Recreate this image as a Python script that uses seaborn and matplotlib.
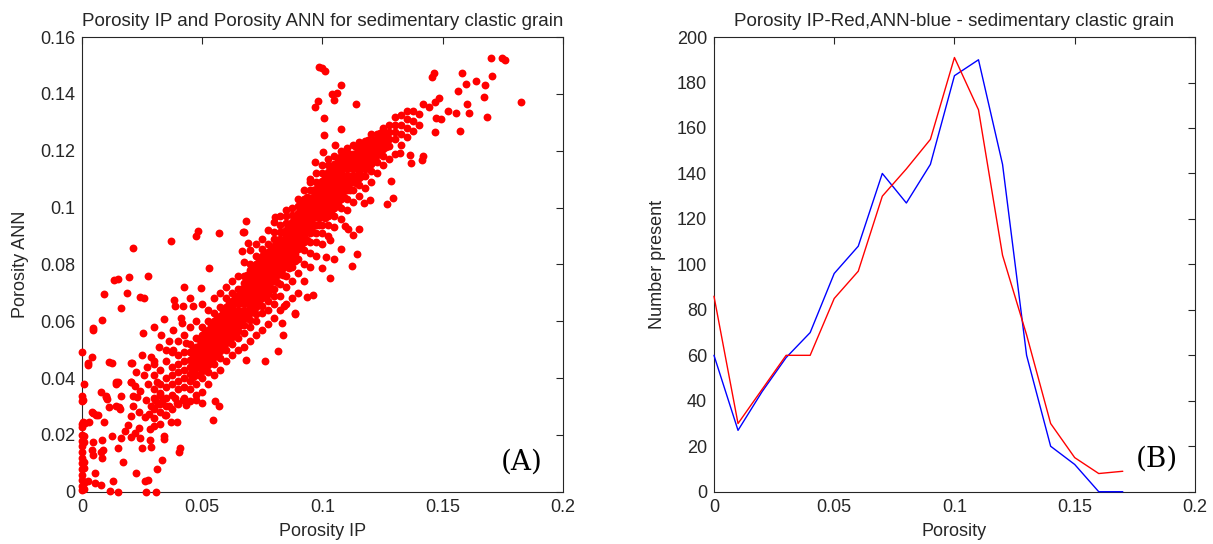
import numpy as np
import pandas as pd
import seaborn as sns
from matplotlib import pyplot as plt
from matplotlib.ticker import FuncFormatter, MultipleLocator

# ---- panel B: counts per porosity bin ----
bin_centres = [0.00, 0.01, 0.02, 0.03, 0.04, 0.05, 0.06, 0.07, 0.08,
               0.09, 0.10, 0.11, 0.12, 0.13, 0.14, 0.15, 0.16, 0.17]
count_ip = [86, 30, 45, 60, 60, 85, 97, 130, 142,
            155, 191, 168, 104, 69, 30, 15, 8, 9]
count_ann = [60, 27, 44, 59, 70, 96, 108, 140, 127,
             144, 183, 190, 144, 60, 20, 12, 0, 0]

# ---- panel A: main band, read column by column (IP value -> ANN values) ----
band_ip = [0.0300, 0.0325, 0.0350, 0.0375, 0.0400, 0.0425, 0.0450, 0.0475,
           0.0500, 0.0525, 0.0550, 0.0575, 0.0600, 0.0625, 0.0650, 0.0675,
           0.0700, 0.0725, 0.0750, 0.0775, 0.0800, 0.0825, 0.0850, 0.0875,
           0.0900, 0.0925, 0.0950, 0.0975, 0.1000, 0.1025, 0.1050, 0.1075,
           0.1100, 0.1125, 0.1150, 0.1175, 0.1200, 0.1225, 0.1250, 0.1275,
           0.1300, 0.1325, 0.1350, 0.1375, 0.1400]
band_ann = [
    [0.026, 0.029, 0.033, 0.036, 0.041, 0.046],
    [0.024, 0.028, 0.031, 0.034, 0.038, 0.043],
    [0.027, 0.030, 0.033, 0.037, 0.040, 0.046, 0.050],
    [0.029, 0.034, 0.038, 0.041, 0.044, 0.049],
    [0.031, 0.036, 0.039, 0.042, 0.045, 0.048, 0.053],
    [0.033, 0.037, 0.040, 0.043, 0.046, 0.049, 0.055],
    [0.032, 0.036, 0.039, 0.0415, 0.044, 0.0465, 0.049, 0.052, 0.058],
    [0.034, 0.038, 0.041, 0.0435, 0.046, 0.0485, 0.051, 0.054, 0.060],
    [0.035, 0.040, 0.0425, 0.045, 0.0475, 0.050, 0.0525, 0.055, 0.058, 0.066],
    [0.038, 0.042, 0.0445, 0.047, 0.0495, 0.052, 0.0545, 0.057, 0.060, 0.064],
    [0.041, 0.045, 0.0475, 0.050, 0.0525, 0.055, 0.0575, 0.060, 0.063, 0.068],
    [0.043, 0.047, 0.0495, 0.052, 0.0545, 0.057, 0.0595, 0.062, 0.065, 0.070],
    [0.046, 0.050, 0.0525, 0.055, 0.0575, 0.060, 0.0625, 0.065, 0.068, 0.072],
    [0.048, 0.052, 0.0545, 0.057, 0.0595, 0.062, 0.0645, 0.067, 0.070, 0.074],
    [0.050, 0.054, 0.0565, 0.059, 0.0615, 0.064, 0.0665, 0.069, 0.0715, 0.076],
    [0.051, 0.056, 0.0585, 0.061, 0.0635, 0.066, 0.0685, 0.071, 0.0735, 0.076, 0.081],
    [0.053, 0.058, 0.0605, 0.063, 0.0655, 0.068, 0.0705, 0.073, 0.0755, 0.078, 0.080, 0.085],
    [0.055, 0.060, 0.0625, 0.065, 0.0675, 0.070, 0.0725, 0.075, 0.0775, 0.080, 0.083, 0.087],
    [0.057, 0.063, 0.0655, 0.068, 0.0705, 0.073, 0.0755, 0.078, 0.0805, 0.083, 0.0855, 0.089],
    [0.059, 0.064, 0.067, 0.0695, 0.072, 0.0745, 0.077, 0.0795, 0.082, 0.0845, 0.087, 0.092],
    [0.061, 0.066, 0.069, 0.0715, 0.074, 0.0765, 0.079, 0.0815, 0.084, 0.0865, 0.089, 0.0915, 0.095],
    [0.064, 0.069, 0.073, 0.0765, 0.079, 0.0815, 0.084, 0.0865, 0.089, 0.0915, 0.094, 0.097],
    [0.066, 0.072, 0.076, 0.0795, 0.082, 0.0845, 0.087, 0.0895, 0.092, 0.0945, 0.097, 0.099],
    [0.068, 0.074, 0.079, 0.0825, 0.085, 0.0875, 0.090, 0.0925, 0.095, 0.0975, 0.100],
    [0.070, 0.077, 0.082, 0.0855, 0.088, 0.0905, 0.093, 0.0955, 0.098, 0.1005, 0.103],
    [0.074, 0.080, 0.085, 0.088, 0.0905, 0.093, 0.0955, 0.098, 0.1005, 0.103, 0.106],
    [0.079, 0.084, 0.088, 0.091, 0.0935, 0.096, 0.0985, 0.101, 0.1035, 0.106, 0.109],
    [0.083, 0.088, 0.091, 0.094, 0.0965, 0.099, 0.1015, 0.104, 0.1065, 0.109, 0.112],
    [0.087, 0.091, 0.094, 0.097, 0.0995, 0.102, 0.1045, 0.107, 0.1095, 0.112, 0.115],
    [0.090, 0.094, 0.097, 0.100, 0.1025, 0.105, 0.1075, 0.110, 0.1125, 0.115, 0.117],
    [0.093, 0.097, 0.100, 0.103, 0.1055, 0.108, 0.1105, 0.113, 0.1155, 0.118],
    [0.096, 0.100, 0.103, 0.1055, 0.108, 0.1105, 0.113, 0.1155, 0.118, 0.120],
    [0.099, 0.103, 0.106, 0.1085, 0.111, 0.1135, 0.116, 0.1185, 0.121],
    [0.102, 0.106, 0.109, 0.1115, 0.114, 0.1165, 0.119, 0.122],
    [0.104, 0.108, 0.1105, 0.113, 0.1155, 0.118, 0.1205, 0.123],
    [0.107, 0.111, 0.1135, 0.116, 0.1185, 0.121, 0.1235],
    [0.109, 0.113, 0.1155, 0.118, 0.1205, 0.123, 0.126],
    [0.112, 0.116, 0.1185, 0.121, 0.1235, 0.126],
    [0.115, 0.118, 0.1205, 0.123, 0.1255, 0.128],
    [0.117, 0.1215, 0.124, 0.1265, 0.129],
    [0.119, 0.124, 0.1265, 0.129, 0.132],
    [0.122, 0.126, 0.129, 0.1325],
    [0.125, 0.128, 0.131, 0.134],
    [0.127, 0.1305, 0.134],
    [0.129, 0.133],
]

# ---- panel A: densest part of the band, between the columns above ----
core_ip = [0.04625, 0.04875, 0.05125, 0.05375, 0.05625, 0.05875, 0.06125, 0.06375,
           0.06625, 0.06875, 0.07125, 0.07375, 0.07625, 0.07875, 0.08125, 0.08375,
           0.08625, 0.08875, 0.09125, 0.09375, 0.09625, 0.09875, 0.10125, 0.10375,
           0.10625, 0.10875, 0.11125, 0.11375, 0.11625, 0.11875, 0.12125, 0.12375,
           0.12625]
core_ann = [
    [0.04025, 0.04275, 0.04525, 0.04775, 0.05025],
    [0.04125, 0.04375, 0.04625, 0.04875, 0.05125, 0.05375],
    [0.04375, 0.04625, 0.04875, 0.05125, 0.05375, 0.05625],
    [0.04625, 0.04875, 0.05125, 0.05375, 0.05625, 0.05875],
    [0.04875, 0.05125, 0.05375, 0.05625, 0.05875, 0.06125],
    [0.05125, 0.05375, 0.05625, 0.05875, 0.06125, 0.06375],
    [0.05375, 0.05625, 0.05875, 0.06125, 0.06375, 0.06625],
    [0.05625, 0.05875, 0.06125, 0.06375, 0.06625, 0.06875],
    [0.05875, 0.06125, 0.06375, 0.06625, 0.06875, 0.07125],
    [0.06125, 0.06375, 0.06625, 0.06875, 0.07125, 0.07375, 0.07625],
    [0.06375, 0.06625, 0.06875, 0.07125, 0.07375, 0.07625, 0.07875],
    [0.06625, 0.06875, 0.07125, 0.07375, 0.07625, 0.07875, 0.08125],
    [0.06875, 0.07125, 0.07375, 0.07625, 0.07875, 0.08125, 0.08375],
    [0.07125, 0.07375, 0.07625, 0.07875, 0.08125, 0.08375, 0.08625],
    [0.07375, 0.07625, 0.07875, 0.08125, 0.08375, 0.08625, 0.08875],
    [0.07625, 0.07875, 0.08125, 0.08375, 0.08625, 0.08875, 0.09125],
    [0.07875, 0.08125, 0.08375, 0.08625, 0.08875, 0.09125, 0.09375],
    [0.08125, 0.08375, 0.08625, 0.08875, 0.09125, 0.09375, 0.09625],
    [0.08625, 0.08875, 0.09125, 0.09375, 0.09625, 0.09875, 0.10125],
    [0.08875, 0.09125, 0.09375, 0.09625, 0.09875, 0.10125, 0.10375],
    [0.09125, 0.09375, 0.09625, 0.09875, 0.10125, 0.10375, 0.10625],
    [0.09375, 0.09625, 0.09875, 0.10125, 0.10375, 0.10625, 0.10875],
    [0.09625, 0.09875, 0.10125, 0.10375, 0.10625, 0.10875, 0.11125],
    [0.09875, 0.10125, 0.10375, 0.10625, 0.10875, 0.11125, 0.11375],
    [0.10125, 0.10375, 0.10625, 0.10875, 0.11125, 0.11375, 0.11625],
    [0.10375, 0.10625, 0.10875, 0.11125, 0.11375, 0.11625, 0.11875],
    [0.10625, 0.10875, 0.11125, 0.11375, 0.11625, 0.11875],
    [0.10875, 0.11125, 0.11375, 0.11625, 0.11875, 0.12125],
    [0.11125, 0.11375, 0.11625, 0.11875, 0.12125],
    [0.11375, 0.11625, 0.11875, 0.12125, 0.12375],
    [0.11625, 0.11875, 0.12125, 0.12375],
    [0.11875, 0.12125, 0.12375, 0.12625],
    [0.12125, 0.12375, 0.12625],
]

# ---- panel A: scattered points outside the band ----
outlier_ip = [
    0.0987, 0.1000, 0.1010, 0.1075, 0.1060, 0.1050, 0.1040, 0.0980, 0.0970, 0.1140,
    0.1006, 0.1006, 0.1075, 0.1052, 0.1003, 0.0970, 0.0950, 0.1701, 0.1746, 0.1758,
    0.1825, 0.1686, 0.1670, 0.1675, 0.1706, 0.1640, 0.1580, 0.1598, 0.1565, 0.1600,
    0.1610, 0.1570, 0.1463, 0.1456, 0.1483, 0.1467, 0.1520, 0.1555, 0.1466, 0.1420,
    0.1444, 0.1473, 0.1491, 0.1412, 0.1420, 0.1370, 0.1364, 0.1324, 0.1285, 0.1293,
    0.1269, 0.1197, 0.1173, 0.1150, 0.1126, 0.1094, 0.1107, 0.1145, 0.1121, 0.1030,
    0.0998, 0.1046, 0.1014, 0.1078, 0.1033, 0.0959, 0.0935, 0.0887, 0.0831, 0.0836,
    0.0815, 0.0760, 0.0684, 0.0840, 0.0887, 0.0211, 0.0370, 0.0482, 0.0474, 0.0569,
    0.0680, 0.0668, 0.0530, 0.0275, 0.0196, 0.0148, 0.0132, 0.0092, 0.0188, 0.0243,
    0.0259, 0.0164, 0.0084, 0.0045, 0.0045, 0.0299, 0.0339, 0.0254, 0.0025, 0.0041,
    0.0000, 0.0124, 0.0207, 0.0010, 0.0000, 0.0005, 0.0000, 0.0425, 0.0495, 0.0384,
    0.0387, 0.0450, 0.0460, 0.0419, 0.0377, 0.0412, 0.0416, 0.0804, 0.0672, 0.0692,
    0.0665, 0.0116, 0.0148, 0.0267, 0.0307, 0.0080, 0.0052, 0.0129, 0.0223, 0.0264,
    0.0275, 0.0312, 0.0331, 0.0402, 0.0407, 0.0052, 0.0169, 0.0084, 0.0080, 0.0089,
    0.0045, 0.0041, 0.0084, 0.0124, 0.0045, 0.0092, 0.0060, 0.0045, 0.0029, 0.0013,
    0.0000, 0.0105, 0.0100, 0.0143, 0.0159, 0.0164, 0.0148, 0.0180, 0.0203, 0.0191,
    0.0219, 0.0235, 0.0243, 0.0251, 0.0283, 0.0283, 0.0286, 0.0299, 0.0339, 0.0343,
    0.0370, 0.0397, 0.0264, 0.0280, 0.0238, 0.0211, 0.0203, 0.0164, 0.0211, 0.0227,
    0.0140, 0.0148, 0.0203, 0.0219, 0.0259, 0.0243, 0.0267, 0.0288, 0.0304, 0.0315,
    0.0331, 0.0312, 0.0323, 0.0347, 0.0362, 0.0386, 0.0394, 0.0418, 0.0434, 0.0474,
    0.0498, 0.0545, 0.0569, 0.0553, 0.0025, 0.0000, 0.0000, 0.0000, 0.0000, 0.0000,
    0.0000, 0.0000, 0.0000, 0.0000, 0.0000, 0.0000, 0.0000, 0.0010, 0.0010, 0.0010,
    0.0010, 0.0010, 0.0010, 0.0270, 0.0285, 0.0250, 0.0320, 0.0330, 0.0360, 0.0380,
    0.0300, 0.0225, 0.0275, 0.0114, 0.0204, 0.0024, 0.0141, 0.0204, 0.0079, 0.0100,
    0.0042, 0.0006, 0.0065, 0.0114, 0.0155, 0.0432,
]
outlier_ann = [
    0.1496, 0.1490, 0.1480, 0.1431, 0.1403, 0.1380, 0.1400, 0.1376, 0.1355, 0.1366,
    0.1315, 0.1254, 0.1276, 0.1220, 0.1195, 0.1160, 0.1100, 0.1527, 0.1525, 0.1520,
    0.1370, 0.1317, 0.1390, 0.1431, 0.1462, 0.1447, 0.1474, 0.1435, 0.1410, 0.1366,
    0.1333, 0.1268, 0.1474, 0.1460, 0.1385, 0.1370, 0.1340, 0.1333, 0.1266, 0.1366,
    0.1354, 0.1315, 0.1310, 0.1168, 0.1183, 0.1158, 0.1184, 0.1193, 0.1095, 0.1034,
    0.1012, 0.1028, 0.1015, 0.0924, 0.0905, 0.0936, 0.0924, 0.0838, 0.0795, 0.0752,
    0.0787, 0.0820, 0.0826, 0.0853, 0.0887, 0.0694, 0.0685, 0.0624, 0.0593, 0.0550,
    0.0495, 0.0459, 0.0465, 0.0654, 0.0630, 0.0856, 0.0881, 0.0917, 0.0899, 0.0911,
    0.0952, 0.0914, 0.0787, 0.0758, 0.0756, 0.0749, 0.0746, 0.0697, 0.0701, 0.0685,
    0.0681, 0.0646, 0.0603, 0.0575, 0.0569, 0.0581, 0.0608, 0.0559, 0.0446, 0.0473,
    0.0493, 0.0453, 0.0453, 0.0379, 0.0336, 0.0324, 0.0318, 0.0721, 0.0716, 0.0675,
    0.0653, 0.0680, 0.0653, 0.0653, 0.0569, 0.0610, 0.0594, 0.0968, 0.0915, 0.0874,
    0.0848, 0.0002, 0.0000, 0.0000, 0.0000, 0.0024, 0.0030, 0.0037, 0.0067, 0.0037,
    0.0043, 0.0080, 0.0113, 0.0141, 0.0153, 0.0067, 0.0104, 0.0119, 0.0141, 0.0147,
    0.0128, 0.0147, 0.0183, 0.0196, 0.0175, 0.0245, 0.0269, 0.0278, 0.0245, 0.0241,
    0.0226, 0.0327, 0.0336, 0.0300, 0.0290, 0.0190, 0.0153, 0.0212, 0.0192, 0.0236,
    0.0208, 0.0224, 0.0190, 0.0153, 0.0183, 0.0220, 0.0159, 0.0232, 0.0196, 0.0187,
    0.0245, 0.0245, 0.0263, 0.0273, 0.0281, 0.0300, 0.0265, 0.0336, 0.0336, 0.0333,
    0.0379, 0.0385, 0.0385, 0.0373, 0.0410, 0.0355, 0.0324, 0.0302, 0.0324, 0.0309,
    0.0318, 0.0385, 0.0349, 0.0269, 0.0300, 0.0330, 0.0312, 0.0324, 0.0306, 0.0324,
    0.0312, 0.0251, 0.0300, 0.0318, 0.0037, 0.0005, 0.0020, 0.0040, 0.0060, 0.0080,
    0.0100, 0.0120, 0.0140, 0.0160, 0.0180, 0.0200, 0.0240, 0.0010, 0.0030, 0.0085,
    0.0105, 0.0175, 0.0195, 0.0440, 0.0475, 0.0480, 0.0510, 0.0550, 0.0530, 0.0500,
    0.0450, 0.0420, 0.0380, 0.0457, 0.0454, 0.0452, 0.0387, 0.0387, 0.0352, 0.0334,
    0.0281, 0.0246, 0.0270, 0.0299, 0.0299, 0.0522,
]

INK = "#262626"

sns.set_style("white")
plt.rcParams["font.family"] = ["Liberation Sans", "DejaVu Sans"]

ip_all = (list(outlier_ip)
          + [x for x, ys in zip(band_ip, band_ann) for _ in ys]
          + [x for x, ys in zip(core_ip, core_ann) for _ in ys])
ann_all = (list(outlier_ann)
           + [y for ys in band_ann for y in ys]
           + [y for ys in core_ann for y in ys])
scatter_df = pd.DataFrame({"Porosity IP": ip_all, "Porosity ANN": ann_all})

line_df = pd.concat([
    pd.DataFrame({"Porosity": bin_centres, "Number present": count_ann, "series": "ANN"}),
    pd.DataFrame({"Porosity": bin_centres, "Number present": count_ip, "series": "IP"}),
])

fig = plt.figure(figsize=(12.13, 5.44), dpi=100)
ax1 = fig.add_axes([0.0676, 0.0961, 0.3965, 0.8358])
ax2 = fig.add_axes([0.5886, 0.0961, 0.3965, 0.8358])

sns.scatterplot(data=scatter_df, x="Porosity IP", y="Porosity ANN", ax=ax1,
                color="#ff0000", s=32, linewidth=0, marker="o", clip_on=False, zorder=3)
ax1.set_xlim(0, 0.2)
ax1.set_ylim(0, 0.16)
ax1.yaxis.set_major_locator(MultipleLocator(0.02))
ax1.set_title("Porosity IP and Porosity ANN for sedimentary clastic grain",
              fontsize=13.5, color=INK, pad=8)
ax1.text(0.183, 0.0105, "(A)", fontsize=20, family="DejaVu Serif",
         ha="center", va="center", color="black")

sns.lineplot(data=line_df, x="Porosity", y="Number present", hue="series",
             palette={"ANN": "#0000ff", "IP": "#ff0000"}, hue_order=["ANN", "IP"],
             linewidth=1.0, legend=False, ax=ax2, clip_on=False, zorder=3)
ax2.set_xlim(0, 0.2)
ax2.set_ylim(0, 200)
ax2.yaxis.set_major_locator(MultipleLocator(20))
ax2.set_title("Porosity IP-Red,ANN-blue - sedimentary clastic grain",
              fontsize=13.5, color=INK, pad=8)
ax2.text(0.184, 14.4, "(B)", fontsize=20, family="DejaVu Serif",
         ha="center", va="center", color="black")

fmt = FuncFormatter(lambda v, _: f"{v:g}")
for ax in (ax1, ax2):
    ax.xaxis.set_major_locator(MultipleLocator(0.05))
    ax.xaxis.set_major_formatter(fmt)
    ax.yaxis.set_major_formatter(fmt)
    ax.tick_params(direction="in", top=True, right=True, length=5, width=0.8,
                   colors=INK, labelsize=13, pad=5)
    ax.xaxis.label.set_color(INK)
    ax.yaxis.label.set_color(INK)
    ax.xaxis.label.set_size(13)
    ax.yaxis.label.set_size(13)
    ax.xaxis.labelpad = 5
    ax.yaxis.labelpad = 8
    for sp in ax.spines.values():
        sp.set_color(INK)
        sp.set_linewidth(0.8)
        sp.set_visible(True)

fig.savefig("out.png", dpi=100)
